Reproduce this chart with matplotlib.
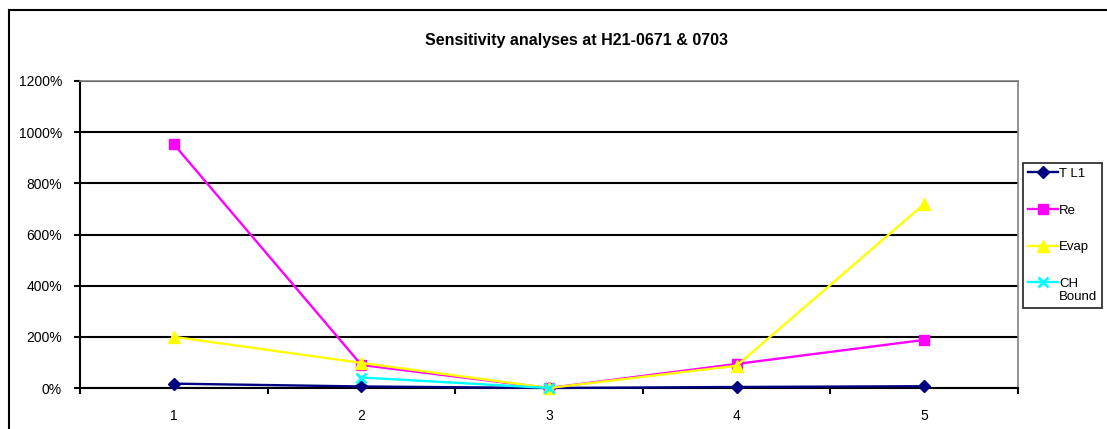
import numpy as np
import matplotlib.pyplot as plt
from matplotlib.patches import Rectangle
from matplotlib.ticker import FuncFormatter, MultipleLocator
from matplotlib.legend_handler import HandlerLine2D

plt.rcParams['font.family'] = ['Liberation Sans', 'DejaVu Sans']

# ── data (percent) ────────────────────────────────────────────────────────────
cases = [1, 2, 3, 4, 5]
tl1 = [17, 6, 0, 4, 7]
re = [953, 90, 0, 94, 188]
evap = [200, 98, 0, 87, 719]
ch_bound = [np.nan, 41, 0, np.nan, np.nan]

series = [
    ("T L1", tl1, '#000080', 'D', 6),
    ("Re", re, '#FF00FF', 's', 7.5),
    ("Evap", evap, '#FFFF00', '^', 8),
    ("CH\nBound", ch_bound, '#00FFFF', 'x', 7),
]


class RaisedLine(HandlerLine2D):
    """Legend handle lifted to sit level with the first line of a 2-line label."""
    def create_artists(self, legend, orig_handle, xdescent, ydescent,
                       width, height, fontsize, trans):
        arts = super().create_artists(legend, orig_handle, xdescent, ydescent,
                                      width, height, fontsize, trans)
        for a in arts:
            a.set_ydata(np.asarray(a.get_ydata()) + 0.6 * fontsize)
        return arts


W, H = 1107, 429
fig = plt.figure(figsize=(W / 100, H / 100), dpi=100)

# chart area frame (runs off the right and bottom edges)
fig.add_artist(Rectangle((9 / W, -0.2), 1.2, 0.2 + 1 - 10 / H,
                         transform=fig.transFigure, fill=False,
                         ec='black', lw=1.5))

ax = fig.add_axes([80 / W, 1 - 388 / H, (1018 - 80) / W, (388 - 81) / H])

xpos = np.arange(len(cases))
lines = []
for label, vals, col, mk, ms in series:
    ln, = ax.plot(xpos, vals, color=col, lw=1.7, marker=mk, markersize=ms,
                  markerfacecolor=col, markeredgecolor=col,
                  markeredgewidth=2 if mk == 'x' else 1, label=label,
                  clip_on=False, zorder=3)
    lines.append(ln)

ax.set_xlim(-0.5, len(cases) - 0.5)
ax.set_ylim(0, 1200)
ax.yaxis.set_major_locator(MultipleLocator(200))
ax.yaxis.set_major_formatter(FuncFormatter(lambda v, _: f"{v:.0f}%"))
ax.grid(axis='y', color='black', lw=1.5)
ax.set_axisbelow(True)

# category labels sit between the boundary ticks
ax.set_xticks(np.arange(-0.5, len(cases), 1.0))
ax.set_xticklabels([])
ax.set_xticks(xpos, minor=True)
ax.set_xticklabels([str(c) for c in cases], minor=True)
ax.tick_params(axis='x', which='minor', length=0, pad=15, labelsize=10)
ax.tick_params(axis='x', which='major', direction='out', length=4, width=1.5)
ax.tick_params(axis='y', direction='out', length=4, width=1.5, pad=9,
               labelsize=10)

for s in ('left', 'bottom'):
    ax.spines[s].set_color('black')
    ax.spines[s].set_linewidth(1.5)
for s in ('top', 'right'):
    ax.spines[s].set_color('#808080')
    ax.spines[s].set_linewidth(1.2)

fig.text(576 / W, 1 - 40 / H, "Sensitivity analyses at H21-0671 & 0703",
         ha='center', va='center', fontsize=11.5, fontweight='bold')

leg = fig.legend(handles=lines, loc='upper left',
                 bbox_to_anchor=(1023 / W, 1 - 163 / H),
                 handler_map={lines[-1]: RaisedLine()},
                 frameon=True, fancybox=False, edgecolor='black',
                 fontsize=9.5, handlelength=2.3, handletextpad=0.1,
                 labelspacing=1.85, borderpad=0.35, borderaxespad=0)
leg.get_frame().set_linewidth(1.3)

fig.savefig("out.png", dpi=100)
